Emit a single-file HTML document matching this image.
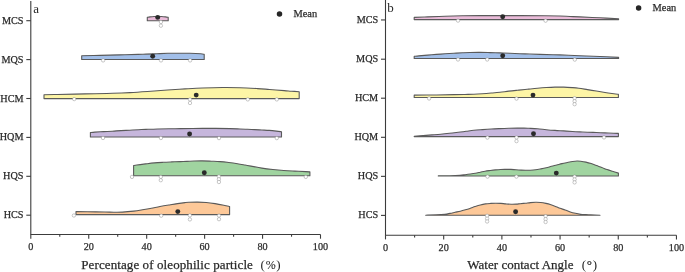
<!DOCTYPE html>
<html><head><meta charset="utf-8"><style>
html,body{margin:0;padding:0;background:#fff;}
svg{display:block;will-change:transform;}
.t{font-family:"Liberation Serif",serif;font-size:10.2px;fill:#262626;stroke:#333;stroke-width:0.25px;}
.T{font-family:"Liberation Serif",serif;font-size:13px;fill:#262626;stroke:#333;stroke-width:0.25px;}
.L{font-family:"Liberation Serif",serif;font-size:13px;fill:#262626;}
</style></head><body>
<svg width="685" height="272" viewBox="0 0 685 272">
<path d="M147.30,20.70 L147.30,17.30 C147.75,17.23 148.88,17.03 150.00,16.90 C151.12,16.78 152.72,16.62 154.00,16.55 C155.28,16.48 156.45,16.45 157.70,16.45 C158.95,16.45 160.20,16.48 161.50,16.55 C162.80,16.62 164.38,16.78 165.50,16.90 C166.62,17.03 167.75,17.23 168.20,17.30 L168.20,20.70 Z" fill="#eabbd9" stroke="#5a5a5a" stroke-width="1.1" stroke-linejoin="round"/>
<path d="M81.70,59.50 L81.70,55.80 C84.75,55.72 93.62,55.51 100.00,55.35 C106.38,55.19 113.67,55.01 120.00,54.85 C126.33,54.69 133.67,54.52 138.00,54.40 C142.33,54.28 142.85,54.27 146.00,54.15 C149.15,54.03 153.25,53.84 156.90,53.70 C160.55,53.56 164.25,53.38 167.90,53.30 C171.55,53.22 175.15,53.20 178.80,53.20 C182.45,53.20 186.15,53.20 189.80,53.30 C193.45,53.40 198.30,53.63 200.70,53.80 C203.10,53.97 203.62,54.22 204.20,54.30 L204.20,59.50 Z" fill="#a2bfe9" stroke="#5a5a5a" stroke-width="1.1" stroke-linejoin="round"/>
<path d="M44.00,98.60 L44.00,94.80 C46.25,94.75 52.33,94.62 57.50,94.50 C62.67,94.38 68.75,94.23 75.00,94.10 C81.25,93.97 88.75,93.83 95.00,93.70 C101.25,93.57 106.67,93.48 112.50,93.30 C118.33,93.12 124.17,92.90 130.00,92.60 C135.83,92.30 141.25,91.93 147.50,91.50 C153.75,91.07 161.25,90.43 167.50,90.00 C173.75,89.57 179.17,89.23 185.00,88.90 C190.83,88.57 196.25,88.23 202.50,88.00 C208.75,87.77 216.25,87.55 222.50,87.50 C228.75,87.45 234.17,87.52 240.00,87.70 C245.83,87.88 252.57,88.30 257.50,88.60 C262.43,88.90 265.15,89.17 269.60,89.50 C274.05,89.83 280.55,90.32 284.20,90.60 C287.85,90.88 289.00,91.02 291.50,91.20 C294.00,91.38 297.92,91.62 299.20,91.70 L299.20,98.60 Z" fill="#fdf5a6" stroke="#5a5a5a" stroke-width="1.1" stroke-linejoin="round"/>
<path d="M90.40,137.00 L90.40,132.50 C91.13,132.43 92.62,132.25 94.80,132.10 C96.98,131.95 100.58,131.75 103.50,131.60 C106.42,131.45 109.38,131.37 112.30,131.20 C115.22,131.03 118.08,130.77 121.00,130.60 C123.92,130.43 126.88,130.35 129.80,130.20 C132.72,130.05 135.80,129.83 138.50,129.70 C141.20,129.57 142.83,129.52 146.00,129.40 C149.17,129.28 152.67,129.12 157.50,129.00 C162.33,128.88 169.17,128.78 175.00,128.70 C180.83,128.62 186.25,128.55 192.50,128.50 C198.75,128.45 206.25,128.38 212.50,128.40 C218.75,128.42 225.42,128.50 230.00,128.60 C234.58,128.70 237.08,128.88 240.00,129.00 C242.92,129.12 245.07,129.20 247.50,129.30 C249.93,129.40 252.20,129.48 254.60,129.60 C257.00,129.72 259.47,129.87 261.90,130.00 C264.33,130.13 266.77,130.22 269.20,130.40 C271.63,130.58 274.45,130.88 276.50,131.10 C278.55,131.32 280.67,131.60 281.50,131.70 L281.50,137.00 Z" fill="#c6b6dc" stroke="#5a5a5a" stroke-width="1.1" stroke-linejoin="round"/>
<path d="M133.60,175.70 L133.60,165.60 C134.13,165.50 134.82,165.28 136.80,165.00 C138.78,164.72 142.58,164.25 145.50,163.90 C148.42,163.55 151.38,163.17 154.30,162.90 C157.22,162.63 160.08,162.47 163.00,162.30 C165.92,162.13 168.88,162.02 171.80,161.90 C174.72,161.78 177.97,161.68 180.50,161.60 C183.03,161.52 184.78,161.50 187.00,161.40 C189.22,161.30 191.22,161.08 193.80,161.00 C196.38,160.92 199.58,160.87 202.50,160.90 C205.42,160.93 208.38,161.08 211.30,161.20 C214.22,161.32 217.08,161.38 220.00,161.60 C222.92,161.82 225.88,162.15 228.80,162.50 C231.72,162.85 234.80,163.28 237.50,163.70 C240.20,164.12 242.75,164.60 245.00,165.00 C247.25,165.40 248.18,165.58 251.00,166.10 C253.82,166.62 258.25,167.53 261.90,168.10 C265.55,168.67 269.25,169.10 272.90,169.50 C276.55,169.90 280.15,170.23 283.80,170.50 C287.45,170.77 291.15,170.92 294.80,171.10 C298.45,171.28 303.18,171.47 305.70,171.60 C308.22,171.73 309.20,171.85 309.90,171.90 L309.90,175.70 Z" fill="#a0d4a0" stroke="#5a5a5a" stroke-width="1.1" stroke-linejoin="round"/>
<path d="M76.00,214.60 L76.00,211.60 C77.92,211.63 82.67,211.73 87.50,211.80 C92.33,211.87 100.62,211.93 105.00,212.00 C109.38,212.07 110.88,212.18 113.80,212.20 C116.72,212.22 119.17,212.28 122.50,212.10 C125.83,211.92 130.47,211.48 133.80,211.10 C137.13,210.72 139.58,210.28 142.50,209.80 C145.42,209.32 148.38,208.75 151.30,208.20 C154.22,207.65 157.08,207.03 160.00,206.50 C162.92,205.97 165.88,205.48 168.80,205.00 C171.72,204.52 174.80,204.00 177.50,203.60 C180.20,203.20 183.12,202.82 185.00,202.60 C186.88,202.38 186.72,202.38 188.80,202.30 C190.88,202.22 194.58,202.07 197.50,202.10 C200.42,202.13 203.38,202.25 206.30,202.50 C209.22,202.75 212.08,203.15 215.00,203.60 C217.92,204.05 221.37,204.72 223.80,205.20 C226.23,205.68 228.63,206.28 229.60,206.50 L229.60,214.60 Z" fill="#fdc898" stroke="#5a5a5a" stroke-width="1.1" stroke-linejoin="round"/>
<circle cx="160.90" cy="22.00" r="1.7" fill="#fff" stroke="#909090" stroke-width="0.5"/>
<circle cx="160.90" cy="25.70" r="1.7" fill="#fff" stroke="#909090" stroke-width="0.5"/>
<circle cx="103.10" cy="60.40" r="1.7" fill="#fff" stroke="#909090" stroke-width="0.5"/>
<circle cx="161.00" cy="60.40" r="1.7" fill="#fff" stroke="#909090" stroke-width="0.5"/>
<circle cx="190.10" cy="60.40" r="1.7" fill="#fff" stroke="#909090" stroke-width="0.5"/>
<circle cx="74.20" cy="99.10" r="1.7" fill="#fff" stroke="#909090" stroke-width="0.5"/>
<circle cx="190.00" cy="99.50" r="1.7" fill="#fff" stroke="#909090" stroke-width="0.5"/>
<circle cx="190.00" cy="103.00" r="1.7" fill="#fff" stroke="#909090" stroke-width="0.5"/>
<circle cx="247.80" cy="99.40" r="1.7" fill="#fff" stroke="#909090" stroke-width="0.5"/>
<circle cx="276.80" cy="99.40" r="1.7" fill="#fff" stroke="#909090" stroke-width="0.5"/>
<circle cx="103.00" cy="138.00" r="1.7" fill="#fff" stroke="#909090" stroke-width="0.5"/>
<circle cx="160.90" cy="138.00" r="1.7" fill="#fff" stroke="#909090" stroke-width="0.5"/>
<circle cx="219.00" cy="138.10" r="1.7" fill="#fff" stroke="#909090" stroke-width="0.5"/>
<circle cx="276.80" cy="138.10" r="1.7" fill="#fff" stroke="#909090" stroke-width="0.5"/>
<circle cx="132.00" cy="176.90" r="1.7" fill="#fff" stroke="#909090" stroke-width="0.5"/>
<circle cx="160.80" cy="176.90" r="1.7" fill="#fff" stroke="#909090" stroke-width="0.5"/>
<circle cx="160.80" cy="180.20" r="1.7" fill="#fff" stroke="#909090" stroke-width="0.5"/>
<circle cx="218.90" cy="176.50" r="1.7" fill="#fff" stroke="#909090" stroke-width="0.5"/>
<circle cx="218.90" cy="179.25" r="1.7" fill="#fff" stroke="#909090" stroke-width="0.5"/>
<circle cx="218.90" cy="182.00" r="1.7" fill="#fff" stroke="#909090" stroke-width="0.5"/>
<circle cx="305.80" cy="176.90" r="1.7" fill="#fff" stroke="#909090" stroke-width="0.5"/>
<circle cx="73.90" cy="215.50" r="1.7" fill="#fff" stroke="#909090" stroke-width="0.5"/>
<circle cx="161.20" cy="215.70" r="1.7" fill="#fff" stroke="#909090" stroke-width="0.5"/>
<circle cx="189.90" cy="215.40" r="1.7" fill="#fff" stroke="#909090" stroke-width="0.5"/>
<circle cx="189.90" cy="219.40" r="1.7" fill="#fff" stroke="#909090" stroke-width="0.5"/>
<circle cx="219.00" cy="215.60" r="1.7" fill="#fff" stroke="#909090" stroke-width="0.5"/>
<circle cx="219.00" cy="219.20" r="1.7" fill="#fff" stroke="#909090" stroke-width="0.5"/>
<circle cx="157.70" cy="17.40" r="2.45" fill="#2a2a2a"/>
<circle cx="152.70" cy="56.30" r="2.45" fill="#2a2a2a"/>
<circle cx="196.20" cy="95.10" r="2.45" fill="#2a2a2a"/>
<circle cx="189.60" cy="134.00" r="2.45" fill="#2a2a2a"/>
<circle cx="204.30" cy="172.70" r="2.45" fill="#2a2a2a"/>
<circle cx="177.80" cy="211.60" r="2.45" fill="#2a2a2a"/>
<path d="M30.80,0.90 V234.50 H320.50" fill="none" stroke="#3c3c3c" stroke-width="1.1"/>
<line x1="30.80" y1="234.50" x2="30.80" y2="238.70" stroke="#3c3c3c" stroke-width="1.1"/>
<text x="30.80" y="249.80" text-anchor="middle" class="t">0</text>
<line x1="59.77" y1="234.50" x2="59.77" y2="236.70" stroke="#3c3c3c" stroke-width="1.1"/>
<line x1="88.74" y1="234.50" x2="88.74" y2="238.70" stroke="#3c3c3c" stroke-width="1.1"/>
<text x="88.74" y="249.80" text-anchor="middle" class="t">20</text>
<line x1="117.71" y1="234.50" x2="117.71" y2="236.70" stroke="#3c3c3c" stroke-width="1.1"/>
<line x1="146.68" y1="234.50" x2="146.68" y2="238.70" stroke="#3c3c3c" stroke-width="1.1"/>
<text x="146.68" y="249.80" text-anchor="middle" class="t">40</text>
<line x1="175.65" y1="234.50" x2="175.65" y2="236.70" stroke="#3c3c3c" stroke-width="1.1"/>
<line x1="204.62" y1="234.50" x2="204.62" y2="238.70" stroke="#3c3c3c" stroke-width="1.1"/>
<text x="204.62" y="249.80" text-anchor="middle" class="t">60</text>
<line x1="233.59" y1="234.50" x2="233.59" y2="236.70" stroke="#3c3c3c" stroke-width="1.1"/>
<line x1="262.56" y1="234.50" x2="262.56" y2="238.70" stroke="#3c3c3c" stroke-width="1.1"/>
<text x="262.56" y="249.80" text-anchor="middle" class="t">80</text>
<line x1="291.53" y1="234.50" x2="291.53" y2="236.70" stroke="#3c3c3c" stroke-width="1.1"/>
<line x1="320.50" y1="234.50" x2="320.50" y2="238.70" stroke="#3c3c3c" stroke-width="1.1"/>
<text x="320.50" y="249.80" text-anchor="middle" class="t">100</text>
<line x1="26.30" y1="20.70" x2="30.80" y2="20.70" stroke="#3c3c3c" stroke-width="1.1"/>
<text x="23.50" y="23.75" text-anchor="end" class="t">MCS</text>
<line x1="26.30" y1="59.60" x2="30.80" y2="59.60" stroke="#3c3c3c" stroke-width="1.1"/>
<text x="23.50" y="62.65" text-anchor="end" class="t">MQS</text>
<line x1="26.30" y1="98.50" x2="30.80" y2="98.50" stroke="#3c3c3c" stroke-width="1.1"/>
<text x="23.50" y="101.55" text-anchor="end" class="t">HCM</text>
<line x1="26.30" y1="137.40" x2="30.80" y2="137.40" stroke="#3c3c3c" stroke-width="1.1"/>
<text x="23.50" y="140.45" text-anchor="end" class="t">HQM</text>
<line x1="26.30" y1="176.30" x2="30.80" y2="176.30" stroke="#3c3c3c" stroke-width="1.1"/>
<text x="23.50" y="179.35" text-anchor="end" class="t">HQS</text>
<line x1="26.30" y1="215.20" x2="30.80" y2="215.20" stroke="#3c3c3c" stroke-width="1.1"/>
<text x="23.50" y="218.25" text-anchor="end" class="t">HCS</text>
<text x="33.30" y="13.10" class="L">a</text>
<circle cx="279.50" cy="14.00" r="2.75" fill="#262626"/>
<text x="293.50" y="17.40" class="t" style="font-size:10.4px">Mean</text>
<text x="81.30" y="268.70" class="T" textLength="171.60" lengthAdjust="spacing">Percentage of oleophilic particle</text>
<text x="260.50" y="268.70" class="T" style="stroke-width:0">(</text>
<text x="265.70" y="268.70" class="T" style="stroke-width:0.1px;font-size:12px">%</text>
<text x="276.20" y="268.70" class="T" style="stroke-width:0">)</text>
<path d="M414.20,19.60 L414.20,17.40 C416.42,17.32 422.37,17.08 427.50,16.90 C432.63,16.72 439.17,16.48 445.00,16.30 C450.83,16.12 456.67,15.92 462.50,15.80 C468.33,15.68 470.42,15.63 480.00,15.60 C489.58,15.57 509.17,15.58 520.00,15.60 C530.83,15.62 538.33,15.63 545.00,15.70 C551.67,15.77 555.83,15.87 560.00,16.00 C564.17,16.13 566.67,16.35 570.00,16.50 C573.33,16.65 575.00,16.68 580.00,16.90 C585.00,17.12 593.57,17.48 600.00,17.80 C606.43,18.12 615.50,18.63 618.60,18.80 L618.60,19.60 Z" fill="#eabbd9" stroke="#5a5a5a" stroke-width="1.1" stroke-linejoin="round"/>
<path d="M414.20,58.50 L414.20,56.40 C414.97,56.32 416.58,56.12 418.80,55.90 C421.02,55.68 424.58,55.35 427.50,55.10 C430.42,54.85 433.38,54.62 436.30,54.40 C439.22,54.18 442.08,53.98 445.00,53.80 C447.92,53.62 450.88,53.47 453.80,53.30 C456.72,53.13 459.80,52.93 462.50,52.80 C465.20,52.67 467.08,52.57 470.00,52.50 C472.92,52.43 476.67,52.38 480.00,52.40 C483.33,52.42 486.67,52.52 490.00,52.60 C493.33,52.68 496.67,52.78 500.00,52.90 C503.33,53.02 505.83,53.13 510.00,53.30 C514.17,53.47 520.00,53.72 525.00,53.90 C530.00,54.08 534.17,54.23 540.00,54.40 C545.83,54.57 553.33,54.68 560.00,54.90 C566.67,55.12 573.33,55.43 580.00,55.70 C586.67,55.97 593.57,56.22 600.00,56.50 C606.43,56.78 615.50,57.25 618.60,57.40 L618.60,58.50 Z" fill="#a2bfe9" stroke="#5a5a5a" stroke-width="1.1" stroke-linejoin="round"/>
<path d="M414.20,97.45 L414.20,95.15 C417.88,95.12 429.70,95.03 436.30,94.95 C442.90,94.87 449.02,94.73 453.80,94.65 C458.58,94.57 461.67,94.52 465.00,94.45 C468.33,94.38 470.88,94.37 473.80,94.25 C476.72,94.13 479.58,93.95 482.50,93.75 C485.42,93.55 488.38,93.30 491.30,93.05 C494.22,92.80 497.08,92.57 500.00,92.25 C502.92,91.93 505.88,91.48 508.80,91.15 C511.72,90.82 514.80,90.52 517.50,90.25 C520.20,89.98 523.12,89.73 525.00,89.55 C526.88,89.37 526.72,89.37 528.80,89.15 C530.88,88.93 534.58,88.52 537.50,88.25 C540.42,87.98 543.38,87.73 546.30,87.55 C549.22,87.37 552.08,87.22 555.00,87.15 C557.92,87.08 560.88,87.07 563.80,87.15 C566.72,87.23 570.00,87.47 572.50,87.65 C575.00,87.83 576.30,87.92 578.80,88.25 C581.30,88.58 584.58,89.18 587.50,89.65 C590.42,90.12 593.38,90.58 596.30,91.05 C599.22,91.52 602.08,92.00 605.00,92.45 C607.92,92.90 611.57,93.43 613.80,93.75 C616.03,94.07 617.63,94.25 618.40,94.35 L618.40,97.45 Z" fill="#fdf5a6" stroke="#5a5a5a" stroke-width="1.1" stroke-linejoin="round"/>
<path d="M414.20,136.60 L414.20,136.30 C415.68,136.18 420.15,135.83 423.10,135.60 C426.05,135.37 428.98,135.13 431.90,134.90 C434.82,134.67 437.68,134.47 440.60,134.20 C443.52,133.93 446.47,133.62 449.40,133.30 C452.33,132.98 455.43,132.63 458.20,132.30 C460.97,131.97 463.40,131.63 466.00,131.30 C468.60,130.97 471.05,130.58 473.80,130.30 C476.55,130.02 479.58,129.82 482.50,129.60 C485.42,129.38 488.38,129.17 491.30,129.00 C494.22,128.83 497.08,128.72 500.00,128.60 C502.92,128.48 505.88,128.38 508.80,128.30 C511.72,128.22 514.97,128.13 517.50,128.10 C520.03,128.07 522.12,128.07 524.00,128.10 C525.88,128.13 526.55,128.18 528.80,128.30 C531.05,128.42 534.58,128.57 537.50,128.80 C540.42,129.03 543.38,129.43 546.30,129.70 C549.22,129.97 552.08,130.20 555.00,130.40 C557.92,130.60 560.88,130.72 563.80,130.90 C566.72,131.08 569.80,131.33 572.50,131.50 C575.20,131.67 577.50,131.78 580.00,131.90 C582.50,132.02 584.78,132.10 587.50,132.20 C590.22,132.30 593.38,132.38 596.30,132.50 C599.22,132.62 602.08,132.78 605.00,132.90 C607.92,133.02 611.57,133.12 613.80,133.20 C616.03,133.28 617.63,133.37 618.40,133.40 L618.40,136.60 Z" fill="#c6b6dc" stroke="#5a5a5a" stroke-width="1.1" stroke-linejoin="round"/>
<path d="M438.30,176.00 L438.30,175.80 C440.20,175.78 446.08,175.78 449.70,175.70 C453.32,175.62 457.43,175.47 460.00,175.30 C462.57,175.13 463.38,174.92 465.10,174.70 C466.82,174.48 468.58,174.25 470.30,174.00 C472.02,173.75 473.73,173.50 475.40,173.20 C477.07,172.90 478.68,172.53 480.30,172.20 C481.92,171.87 483.43,171.48 485.10,171.20 C486.77,170.92 488.58,170.72 490.30,170.50 C492.02,170.28 493.68,170.07 495.40,169.90 C497.12,169.73 498.88,169.58 500.60,169.50 C502.32,169.42 503.98,169.42 505.70,169.40 C507.42,169.38 509.18,169.33 510.90,169.40 C512.62,169.47 514.28,169.68 516.00,169.80 C517.72,169.92 519.48,170.03 521.20,170.10 C522.92,170.17 524.78,170.18 526.30,170.20 C527.82,170.22 528.75,170.27 530.30,170.20 C531.85,170.13 533.83,170.02 535.60,169.80 C537.37,169.58 539.13,169.23 540.90,168.90 C542.67,168.57 544.43,168.23 546.20,167.80 C547.97,167.37 549.75,166.77 551.50,166.30 C553.25,165.83 554.95,165.45 556.70,165.00 C558.45,164.55 560.23,164.02 562.00,163.60 C563.77,163.18 565.53,162.85 567.30,162.50 C569.07,162.15 570.98,161.75 572.60,161.50 C574.22,161.25 575.67,161.05 577.00,161.00 C578.33,160.95 579.12,161.02 580.60,161.20 C582.08,161.38 584.13,161.70 585.90,162.10 C587.67,162.50 589.43,163.02 591.20,163.60 C592.97,164.18 594.73,164.95 596.50,165.60 C598.27,166.25 600.03,166.83 601.80,167.50 C603.57,168.17 605.33,168.97 607.10,169.60 C608.87,170.23 610.52,170.72 612.40,171.30 C614.28,171.88 617.40,172.80 618.40,173.10 L618.40,176.00 Z" fill="#a0d4a0" stroke="#5a5a5a" stroke-width="1.1" stroke-linejoin="round"/>
<path d="M425.70,215.20 L425.70,215.20 C427.42,215.15 432.80,215.05 436.00,214.90 C439.20,214.75 442.57,214.55 444.90,214.30 C447.23,214.05 448.30,213.73 450.00,213.40 C451.70,213.07 453.38,212.67 455.10,212.30 C456.82,211.93 458.58,211.62 460.30,211.20 C462.02,210.78 463.80,210.27 465.40,209.80 C467.00,209.33 468.28,208.93 469.90,208.40 C471.52,207.87 473.37,207.17 475.10,206.60 C476.83,206.03 478.58,205.45 480.30,205.00 C482.02,204.55 483.68,204.17 485.40,203.90 C487.12,203.63 488.88,203.52 490.60,203.40 C492.32,203.28 493.98,203.20 495.70,203.20 C497.42,203.20 499.18,203.28 500.90,203.40 C502.62,203.52 504.28,203.77 506.00,203.90 C507.72,204.03 509.48,204.17 511.20,204.20 C512.92,204.23 514.82,204.18 516.30,204.10 C517.78,204.02 518.60,203.85 520.10,203.70 C521.60,203.55 523.58,203.38 525.30,203.20 C527.02,203.02 528.68,202.75 530.40,202.60 C532.12,202.45 533.88,202.32 535.60,202.30 C537.32,202.28 538.98,202.32 540.70,202.50 C542.42,202.68 544.18,203.02 545.90,203.40 C547.62,203.78 549.28,204.25 551.00,204.80 C552.72,205.35 554.70,206.12 556.20,206.70 C557.70,207.28 558.52,207.75 560.00,208.30 C561.48,208.85 563.38,209.38 565.10,210.00 C566.82,210.62 568.58,211.45 570.30,212.00 C572.02,212.55 573.68,212.93 575.40,213.30 C577.12,213.67 578.88,213.98 580.60,214.20 C582.32,214.42 583.98,214.48 585.70,214.60 C587.42,214.72 588.52,214.80 590.90,214.90 C593.28,215.00 598.48,215.15 600.00,215.20 L600.00,215.20 Z" fill="#fdc898" stroke="#5a5a5a" stroke-width="1.1" stroke-linejoin="round"/>
<circle cx="458.00" cy="20.60" r="1.7" fill="#fff" stroke="#909090" stroke-width="0.5"/>
<circle cx="545.60" cy="20.70" r="1.7" fill="#fff" stroke="#909090" stroke-width="0.5"/>
<circle cx="458.00" cy="59.50" r="1.7" fill="#fff" stroke="#909090" stroke-width="0.5"/>
<circle cx="487.20" cy="59.50" r="1.7" fill="#fff" stroke="#909090" stroke-width="0.5"/>
<circle cx="574.80" cy="59.60" r="1.7" fill="#fff" stroke="#909090" stroke-width="0.5"/>
<circle cx="429.10" cy="98.50" r="1.7" fill="#fff" stroke="#909090" stroke-width="0.5"/>
<circle cx="516.50" cy="98.60" r="1.7" fill="#fff" stroke="#909090" stroke-width="0.5"/>
<circle cx="574.60" cy="98.20" r="1.7" fill="#fff" stroke="#909090" stroke-width="0.5"/>
<circle cx="574.60" cy="101.20" r="1.7" fill="#fff" stroke="#909090" stroke-width="0.5"/>
<circle cx="574.60" cy="104.20" r="1.7" fill="#fff" stroke="#909090" stroke-width="0.5"/>
<circle cx="487.40" cy="137.60" r="1.7" fill="#fff" stroke="#909090" stroke-width="0.5"/>
<circle cx="516.50" cy="137.50" r="1.7" fill="#fff" stroke="#909090" stroke-width="0.5"/>
<circle cx="516.50" cy="141.10" r="1.7" fill="#fff" stroke="#909090" stroke-width="0.5"/>
<circle cx="604.00" cy="137.40" r="1.7" fill="#fff" stroke="#909090" stroke-width="0.5"/>
<circle cx="487.50" cy="176.60" r="1.7" fill="#fff" stroke="#909090" stroke-width="0.5"/>
<circle cx="516.40" cy="176.60" r="1.7" fill="#fff" stroke="#909090" stroke-width="0.5"/>
<circle cx="574.60" cy="176.60" r="1.7" fill="#fff" stroke="#909090" stroke-width="0.5"/>
<circle cx="574.60" cy="179.50" r="1.7" fill="#fff" stroke="#909090" stroke-width="0.5"/>
<circle cx="574.60" cy="182.40" r="1.7" fill="#fff" stroke="#909090" stroke-width="0.5"/>
<circle cx="487.10" cy="215.80" r="1.7" fill="#fff" stroke="#909090" stroke-width="0.5"/>
<circle cx="487.10" cy="218.65" r="1.7" fill="#fff" stroke="#909090" stroke-width="0.5"/>
<circle cx="487.10" cy="221.50" r="1.7" fill="#fff" stroke="#909090" stroke-width="0.5"/>
<circle cx="545.60" cy="216.20" r="1.7" fill="#fff" stroke="#909090" stroke-width="0.5"/>
<circle cx="545.60" cy="219.10" r="1.7" fill="#fff" stroke="#909090" stroke-width="0.5"/>
<circle cx="545.60" cy="222.00" r="1.7" fill="#fff" stroke="#909090" stroke-width="0.5"/>
<circle cx="502.70" cy="16.70" r="2.45" fill="#2a2a2a"/>
<circle cx="502.70" cy="55.80" r="2.45" fill="#2a2a2a"/>
<circle cx="533.00" cy="95.10" r="2.45" fill="#2a2a2a"/>
<circle cx="533.50" cy="133.80" r="2.45" fill="#2a2a2a"/>
<circle cx="556.30" cy="173.10" r="2.45" fill="#2a2a2a"/>
<circle cx="515.60" cy="211.80" r="2.45" fill="#2a2a2a"/>
<path d="M385.50,0.00 V235.20 H676.45" fill="none" stroke="#3c3c3c" stroke-width="1.1"/>
<line x1="385.50" y1="235.20" x2="385.50" y2="239.40" stroke="#3c3c3c" stroke-width="1.1"/>
<text x="385.50" y="250.80" text-anchor="middle" class="t">0</text>
<line x1="414.60" y1="235.20" x2="414.60" y2="237.40" stroke="#3c3c3c" stroke-width="1.1"/>
<line x1="443.69" y1="235.20" x2="443.69" y2="239.40" stroke="#3c3c3c" stroke-width="1.1"/>
<text x="443.69" y="250.80" text-anchor="middle" class="t">20</text>
<line x1="472.78" y1="235.20" x2="472.78" y2="237.40" stroke="#3c3c3c" stroke-width="1.1"/>
<line x1="501.88" y1="235.20" x2="501.88" y2="239.40" stroke="#3c3c3c" stroke-width="1.1"/>
<text x="501.88" y="250.80" text-anchor="middle" class="t">40</text>
<line x1="530.98" y1="235.20" x2="530.98" y2="237.40" stroke="#3c3c3c" stroke-width="1.1"/>
<line x1="560.07" y1="235.20" x2="560.07" y2="239.40" stroke="#3c3c3c" stroke-width="1.1"/>
<text x="560.07" y="250.80" text-anchor="middle" class="t">60</text>
<line x1="589.16" y1="235.20" x2="589.16" y2="237.40" stroke="#3c3c3c" stroke-width="1.1"/>
<line x1="618.26" y1="235.20" x2="618.26" y2="239.40" stroke="#3c3c3c" stroke-width="1.1"/>
<text x="618.26" y="250.80" text-anchor="middle" class="t">80</text>
<line x1="647.36" y1="235.20" x2="647.36" y2="237.40" stroke="#3c3c3c" stroke-width="1.1"/>
<line x1="676.45" y1="235.20" x2="676.45" y2="239.40" stroke="#3c3c3c" stroke-width="1.1"/>
<text x="676.45" y="250.80" text-anchor="middle" class="t">100</text>
<line x1="381.00" y1="19.95" x2="385.50" y2="19.95" stroke="#3c3c3c" stroke-width="1.1"/>
<text x="378.20" y="23.00" text-anchor="end" class="t">MCS</text>
<line x1="381.00" y1="59.20" x2="385.50" y2="59.20" stroke="#3c3c3c" stroke-width="1.1"/>
<text x="378.20" y="62.25" text-anchor="end" class="t">MQS</text>
<line x1="381.00" y1="98.20" x2="385.50" y2="98.20" stroke="#3c3c3c" stroke-width="1.1"/>
<text x="378.20" y="101.25" text-anchor="end" class="t">HCM</text>
<line x1="381.00" y1="137.30" x2="385.50" y2="137.30" stroke="#3c3c3c" stroke-width="1.1"/>
<text x="378.20" y="140.35" text-anchor="end" class="t">HQM</text>
<line x1="381.00" y1="176.35" x2="385.50" y2="176.35" stroke="#3c3c3c" stroke-width="1.1"/>
<text x="378.20" y="179.40" text-anchor="end" class="t">HQS</text>
<line x1="381.00" y1="215.40" x2="385.50" y2="215.40" stroke="#3c3c3c" stroke-width="1.1"/>
<text x="378.20" y="218.45" text-anchor="end" class="t">HCS</text>
<text x="387.20" y="11.60" class="L">b</text>
<circle cx="638.60" cy="8.00" r="2.75" fill="#262626"/>
<text x="652.60" y="11.20" class="t" style="font-size:10.4px">Mean</text>
<text x="467.30" y="269.20" class="T" textLength="106.20" lengthAdjust="spacing">Water contact Angle</text>
<text x="581.70" y="269.20" class="T" style="stroke-width:0">(</text>
<text x="586.80" y="269.20" class="T" style="stroke-width:0.2px">°</text>
<text x="592.70" y="269.20" class="T" style="stroke-width:0">)</text>
</svg>
</body></html>
